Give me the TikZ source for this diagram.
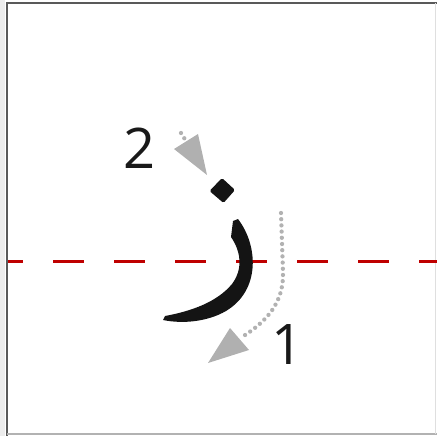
\documentclass[tikz,border=0pt]{standalone}
\usepackage{fontspec}
\setmainfont{Open Sans}
\begin{document}
\begin{tikzpicture}[x=1pt,y=-1pt,
  guide/.style={draw=red!75!black,line width=3pt,dash pattern=on 31pt off 30pt,dash phase=16pt},
  dotpath/.style={draw=gray!60,line width=4.3pt,line cap=round,dash pattern=on 0pt off 6.2pt},
  tiphead/.style={fill=gray!62},
  numlabel/.style={inner sep=0pt,font=\fontsize{56}{56}\selectfont,text=black!90}]
\useasboundingbox (0,0) rectangle (437,436);
% frame
\fill[gray!15] (0,0) rectangle (5,436);
\draw[black!65,line width=2.5pt] (7,436) -- (7,3) -- (437,3);
\draw[gray!60,line width=2pt] (7,434) -- (437,434);
\draw[gray!25,line width=1pt] (435.5,3) -- (435.5,434);
% baseline guide
\coordinate (gl) at (8,261);
\coordinate (gr) at (437,261);
\draw[guide] (gl) -- (gr);
% letter body (reh)
\fill[black!92] (233,221) -- (238,219)
  .. controls (258,245) and (261,290) .. (226,311)
  .. controls (207,322) and (182,324) .. (163,320)
  -- (165,316)
  .. controls (192,311) and (217,302) .. (232,284)
  .. controls (244,268) and (240,250) .. (231,237)
  -- cycle;
% dot
\fill[black!92,rounded corners=1.5pt] (222,178) -- (235,190) -- (223.5,203) -- (209.5,191) -- cycle;
% stroke 2 arrow
\coordinate (s2) at (181,133);
\coordinate (b2) at (186,141);
\draw[dotpath] (s2) -- (b2);
\coordinate (t2a) at (174,149);
\coordinate (t2b) at (198,134);
\coordinate (t2c) at (207,175);
\fill[tiphead] (t2a) -- (t2b) -- (t2c) -- cycle;
% stroke 1 arrow
\coordinate (s1) at (281,213);
\coordinate (b1) at (242,337);
\draw[dotpath] (s1) -- (283,272) .. controls (284,303) and (266,322) .. (b1);
\coordinate (t1a) at (230,328);
\coordinate (t1b) at (249,350);
\coordinate (t1c) at (208,363);
\fill[tiphead] (t1a) -- (t1b) -- (t1c) -- cycle;
% labels
\node[numlabel] (n2) at (140,148) {2};
\node[numlabel] (n1) at (288,345) {1};
\end{tikzpicture}
\end{document}
